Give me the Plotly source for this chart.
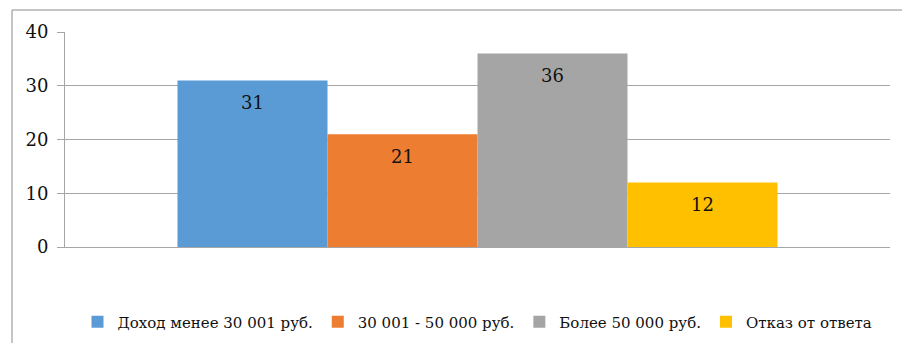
import plotly.graph_objects as go

# Income groups and their shares
groups = ["Доход менее 30 001 руб.", "30 001 - 50 000 руб.", "Более 50 000 руб.", "Отказ от ответа"]
values = [31, 21, 36, 12]
colors = ["#5B9BD5", "#ED7D31", "#A5A5A5", "#FFC000"]
y_ticks = [0, 10, 20, 30, 40]

FONT = "DejaVu Serif"
GRID = "#a6a6a6"

W, H = 902, 343
ml, mr, mt, mb = 65, 12, 32, 96
pw, ph = W - ml - mr, H - mt - mb

fig = go.Figure()
for i, (g, v, c) in enumerate(zip(groups, values, colors)):
    fig.add_trace(go.Bar(
        x=[i], y=[v], name=g, width=1,
        marker=dict(color=c, line=dict(width=0)),
        hoverinfo="y+name",
    ))
    fig.add_annotation(
        x=i, y=v, xref="x", yref="y", text=str(v), showarrow=False,
        yshift=-22, font=dict(family=FONT, size=18, color="#111"),
    )

# outer frame of the chart
fig.add_shape(
    type="rect", xref="paper", yref="paper",
    x0=(12 - ml) / pw, x1=(W + 5 - ml) / pw,
    y0=(ph + mt - (H + 5)) / ph, y1=(ph + mt - 10) / ph,
    line=dict(color="#8a8a8a", width=1), fillcolor="rgba(0,0,0,0)", layer="below",
)

fig.update_layout(
    width=W, height=H,
    margin=dict(l=ml, r=mr, t=mt, b=mb, autoexpand=False),
    paper_bgcolor="white", plot_bgcolor="white",
    barmode="overlay",
    showlegend=True,
    legend=dict(
        orientation="h", x=0.5, xanchor="center", y=(mt + ph - 322) / ph, yanchor="middle",
        font=dict(family=FONT, size=15, color="#111"),
        itemwidth=30, tracegroupgap=0, itemclick=False,
    ),
    font=dict(family=FONT, size=18, color="#111"),
    xaxis=dict(
        range=[-1.25, 4.25], showticklabels=False, ticks="",
        showgrid=False, zeroline=False, showline=True, linecolor=GRID, linewidth=1,
        fixedrange=True,
    ),
    yaxis=dict(
        range=[0, 40], tickvals=y_ticks, ticks="outside", ticklen=7, tickcolor=GRID,
        ticklabelstandoff=5,
        showgrid=True, gridcolor=GRID, gridwidth=1, zeroline=False,
        showline=True, linecolor=GRID, linewidth=1,
        tickfont=dict(family=FONT, size=18, color="#111"), fixedrange=True,
    ),
)

fig.write_html("out.html")
